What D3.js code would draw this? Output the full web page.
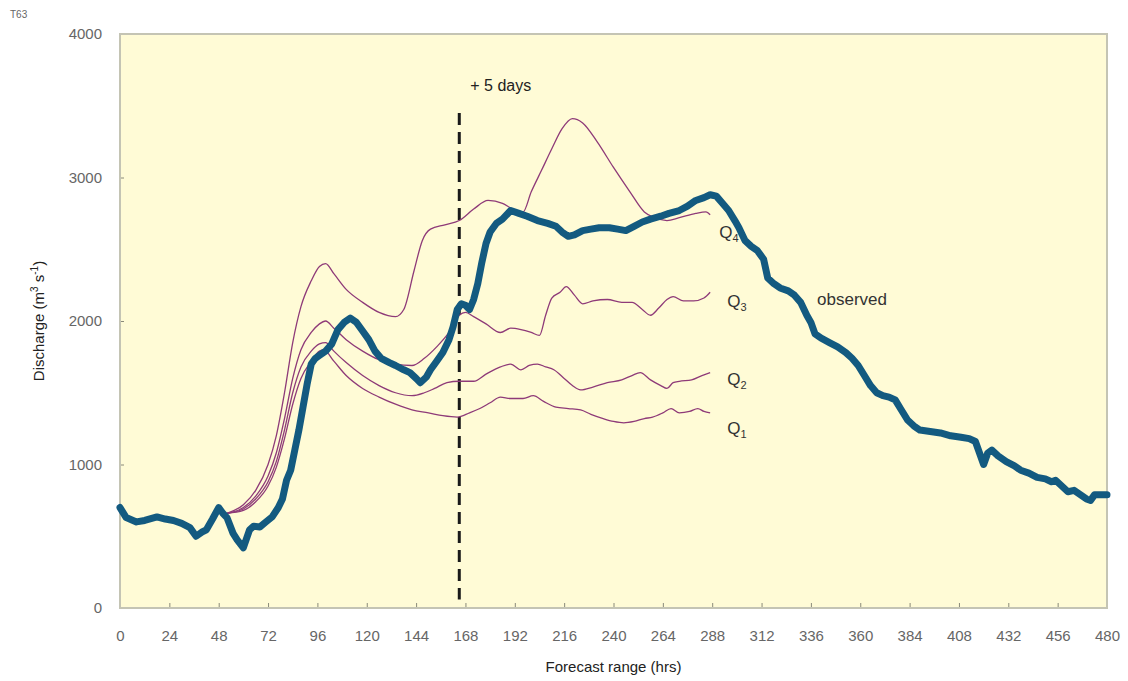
<!DOCTYPE html>
<html><head><meta charset="utf-8">
<script src="https://cdn.jsdelivr.net/npm/d3@7"></script>
<style>
body{margin:0;background:#fff;}
text{font-family:"Liberation Sans",Arial,sans-serif;}
</style>
</head><body>
<svg id="chart" width="1128" height="681"></svg>
<script>
// ---------- data ----------
const xTickValues = [0,24,48,72,96,120,144,168,192,216,240,264,288,312,336,360,384,408,432,456,480];
const yTickValues = [0,1000,2000,3000,4000];

const obsHours = [0,3,8,12,18,22,26,30,34,37,40,42,45,48,50,52,55,57,60,63,65,68,71,74,77,79,81,83,85,87,89,91,93,95,97,100,103,106,109,112,115,118,121,124,127,131,134,138,141,144,146,149,151,154,157,160,162,164,166,168,170,172,174,176,178,180,183,186,190,194,198,203,208,212,215,218,221,225,229,233,238,242,246,250,254,258,263,267,272,276,280,284,287,290,293,296,299,301,304,307,310,313,315,318,321,325,328,331,334,336,338,341,345,349,353,356,359,362,365,368,371,374,377,380,383,386,389,394,399,404,409,413,416,418,420,422,424,427,431,435,438,442,446,450,453,455,458,461,464,467,470,472,474,477,480];
const obsValues = [700,630,600,610,635,620,610,590,560,500,530,545,620,700,660,630,520,475,420,545,570,565,600,635,700,760,890,960,1100,1240,1400,1560,1700,1740,1760,1790,1840,1940,1990,2020,1990,1930,1870,1790,1740,1710,1690,1660,1640,1600,1570,1610,1660,1720,1780,1870,1960,2080,2120,2110,2080,2150,2260,2410,2540,2620,2680,2710,2770,2750,2730,2700,2680,2660,2620,2590,2600,2630,2640,2650,2650,2640,2630,2660,2690,2710,2730,2750,2770,2800,2840,2860,2880,2870,2820,2770,2700,2650,2560,2520,2490,2430,2300,2260,2230,2210,2180,2130,2040,1990,1910,1880,1850,1820,1780,1740,1690,1620,1550,1500,1480,1470,1450,1380,1310,1270,1240,1230,1220,1200,1190,1180,1160,1080,1000,1080,1100,1060,1020,990,960,940,910,900,880,890,850,810,820,790,760,750,790,790,790];

const q1Hours = [52,60,66,72,76,80,84,88,93,97,99,104,110,118,126,134,142,150,157,164,170,175,180,185,190,196,201,206,212,218,224,229,235,240,245,250,255,259,264,268,272,277,281,284,287];
const q1Values = [660,680,740,850,980,1180,1420,1600,1720,1790,1800,1720,1620,1530,1470,1420,1380,1360,1340,1330,1360,1390,1430,1470,1460,1460,1480,1440,1400,1390,1380,1350,1320,1300,1290,1300,1320,1330,1360,1390,1360,1370,1390,1370,1360];

const q2Hours = [52,60,66,72,76,80,84,88,93,97,100,104,110,118,126,134,142,148,153,159,165,172,178,185,190,195,199,203,207,211,216,220,224,230,237,244,249,253,258,263,266,269,272,278,283,287];
const q2Values = [660,690,760,880,1020,1240,1500,1680,1790,1840,1850,1790,1710,1620,1550,1500,1480,1500,1530,1570,1580,1580,1630,1680,1700,1660,1690,1700,1680,1660,1600,1550,1520,1540,1570,1590,1620,1640,1590,1550,1530,1570,1580,1590,1620,1640];

const q3Hours = [52,60,66,72,76,80,84,88,93,97,100,104,110,118,126,134,142,148,154,160,165,168,172,178,185,190,195,200,204,207,210,214,217,221,225,230,237,244,249,254,258,262,266,269,274,279,284,287];
const q3Values = [660,700,780,920,1080,1320,1600,1800,1920,1980,2000,1950,1870,1790,1730,1700,1690,1740,1820,1920,2040,2060,2030,1980,1920,1950,1940,1920,1900,2040,2160,2200,2240,2180,2120,2140,2150,2130,2130,2080,2040,2090,2150,2170,2140,2140,2160,2200];

const q4Hours = [52,60,66,72,76,80,84,88,93,97,100,104,110,118,126,134,138,143,147,151,158,165,172,179,186,191,196,200,205,210,215,220,225,232,240,248,255,260,266,272,280,285,287];
const q4Values = [660,720,820,1000,1200,1500,1850,2100,2280,2380,2400,2330,2220,2130,2060,2030,2080,2350,2560,2640,2670,2700,2780,2840,2820,2780,2760,2900,3050,3200,3340,3410,3380,3250,3070,2900,2760,2720,2700,2720,2750,2760,2740];

const qNames = ["1","2","3","4"];
const markerHour = 165;
const markerRange = [60, 3450];

// ---------- layout ----------
const svg = d3.select("#chart");
const L = 120, R = 1107, T = 34, B = 608;
const x = d3.scaleLinear().domain([0,480]).range([L,R]);
const y = d3.scaleLinear().domain([0,4000]).range([B,T]);

svg.append("rect").attr("x",L).attr("y",T).attr("width",R-L).attr("height",B-T)
  .attr("fill","#fffbd6");

// axes
const tickColor = "#8a8a7a";
const xAxis = svg.append("g").attr("transform",`translate(0,${B})`)
  .call(d3.axisBottom(x).tickValues(xTickValues).tickSize(-5).tickPadding(22).tickFormat(d3.format("d")));
const yAxis = svg.append("g").attr("transform",`translate(${L},0)`)
  .call(d3.axisLeft(y).tickValues(yTickValues).tickSize(-4).tickPadding(18).tickFormat(d3.format("d")));
[xAxis,yAxis].forEach(g=>{
  g.select(".domain").remove();
  g.selectAll(".tick line").attr("stroke",tickColor).attr("stroke-width",1);
  g.selectAll(".tick text").attr("fill","#666").attr("font-size",15)
    .style("font-family","'Liberation Sans',Arial,sans-serif");
});

// frame
svg.append("rect").attr("x",L).attr("y",T).attr("width",R-L).attr("height",B-T)
  .attr("fill","none").attr("stroke","#c4c4b4").attr("stroke-width",2);

// dashed +5 days line
svg.append("line")
  .attr("x1",x(markerHour)).attr("x2",x(markerHour))
  .attr("y1",y(markerRange[1])).attr("y2",y(markerRange[0]))
  .attr("stroke","#1a1a1a").attr("stroke-width",3).attr("stroke-dasharray","12,7");
svg.append("text").attr("x",x(markerHour)+11).attr("y",y(markerRange[1])-22)
  .attr("font-size",16).attr("fill","#222").text("+ 5 days");

// Q lines
const line = d3.line().x(d=>x(d[0])).y(d=>y(d[1])).curve(d3.curveMonotoneX);
const qSeries = [
  [q1Hours,q1Values],[q2Hours,q2Values],[q3Hours,q3Values],[q4Hours,q4Values]
];
const labelOffsets = [[17,21],[17,12],[17,15],[9,23]];
qSeries.forEach((s,i)=>{
  const pts = s[0].map((h,j)=>[h,s[1][j]]);
  svg.append("path").datum(pts).attr("d",line)
    .attr("fill","none").attr("stroke","#8e3a78").attr("stroke-width",1.3)
    .attr("stroke-linejoin","round");
  const last = pts[pts.length-1];
  const t = svg.append("text").attr("x",x(last[0])+labelOffsets[i][0])
    .attr("y",y(last[1])+labelOffsets[i][1]).attr("font-size",17).attr("fill","#333");
  t.append("tspan").text("Q");
  t.append("tspan").attr("font-size",11).attr("dy",4).text(qNames[i]);
});

// observed
const obsPts = obsHours.map((h,i)=>[h,obsValues[i]]);
svg.append("path").datum(obsPts)
  .attr("d",d3.line().x(d=>x(d[0])).y(d=>y(d[1])))
  .attr("fill","none").attr("stroke","#135a80").attr("stroke-width",7)
  .attr("stroke-linejoin","round").attr("stroke-linecap","round");
svg.append("text").attr("x",x(339)).attr("y",y(2150)+6)
  .attr("font-size",17).attr("fill","#333").text("observed");

// titles
svg.append("text").attr("x",(L+R)/2).attr("y",672).attr("text-anchor","middle")
  .attr("font-size",15).attr("fill","#222").text("Forecast range (hrs)");
const yt = svg.append("text").attr("transform",`translate(44,${(T+B)/2}) rotate(-90)`)
  .attr("text-anchor","middle").attr("font-size",15).attr("fill","#222");
yt.append("tspan").text("Discharge (m");
yt.append("tspan").attr("font-size",10).attr("dy",-6).text("3");
yt.append("tspan").attr("dy",6).text(" s");
yt.append("tspan").attr("font-size",10).attr("dy",-6).text("-1");
yt.append("tspan").attr("dy",6).text(")");

svg.append("text").attr("x",10).attr("y",18).attr("font-size",10).attr("fill","#666").text("T63");
</script>
</body></html>
